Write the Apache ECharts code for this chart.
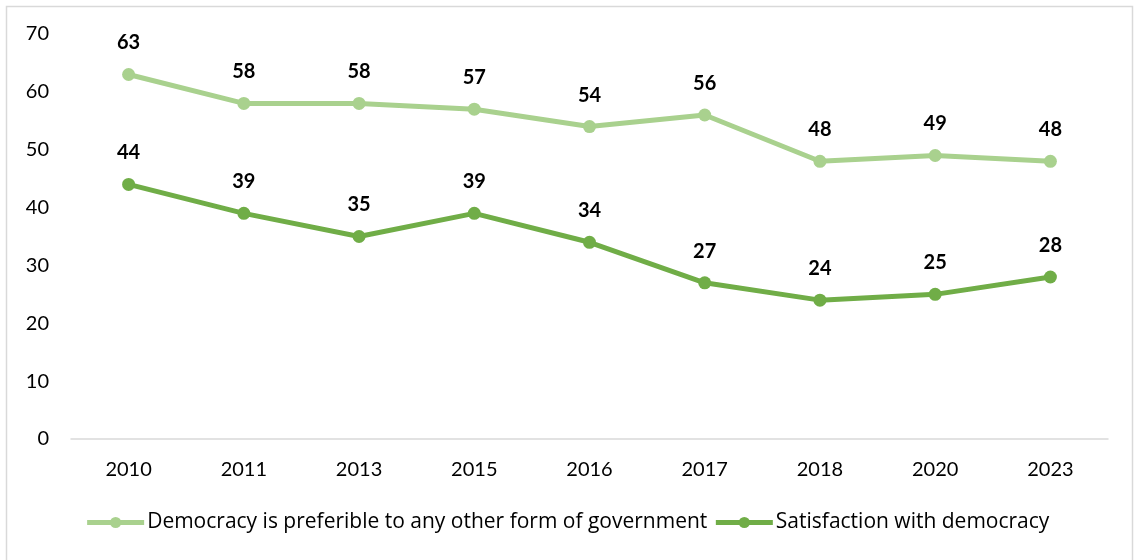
<!DOCTYPE html>
<html><head><meta charset="utf-8">
<script src="https://cdn.jsdelivr.net/npm/echarts@6/dist/echarts.min.js"></script>
<style>html,body{margin:0;padding:0;background:#fff}#c{width:1134px;height:560px}</style>
</head><body><div id="c"></div>
<script>
const categories = ['2010','2011','2013','2015','2016','2017','2018','2020','2023'];
const preferable = [63,58,58,57,54,56,48,49,48];
const satisfaction = [44,39,35,39,34,27,24,25,28];
const seriesNames = ['Democracy is preferible to any other form of government','Satisfaction with democracy'];
const yTicks = [0,10,20,30,40,50,60,70];

const font = 'Lato, "Open Sans", sans-serif';
const chart = echarts.init(document.getElementById('c'));
function mk(name, data, color){
  return {
    name, type:'line', data, symbol:'circle', symbolSize:13,
    lineStyle:{color, width:5}, itemStyle:{color},
    label:{show:true, position:'top', distance:15, color:'#000', fontWeight:'bold', fontSize:20, fontFamily:font},
    emphasis:{disabled:true}, animation:false
  };
}
chart.setOption({
  animation:false,
  graphic:[{type:'rect', shape:{x:6.5,y:6.5,width:1126,height:560}, style:{fill:'none', stroke:'#d9d9d9', lineWidth:1.5}, silent:true}],
  grid:{left:71, right:26, top:34, bottom:121, containLabel:false},
  xAxis:{type:'category', data:categories, boundaryGap:true,
    axisLine:{lineStyle:{color:'#d9d9d9', width:1.5}}, axisTick:{show:false},
    axisLabel:{color:'#000', fontSize:20, fontFamily:font, margin:21}},
  yAxis:{type:'value', min:yTicks[0], max:yTicks[yTicks.length-1], interval:10,
    splitLine:{show:false}, axisLine:{show:false}, axisTick:{show:false},
    axisLabel:{color:'#000', fontSize:20, fontFamily:font, margin:22}},
  legend:{bottom:22, left:'center', itemWidth:57, itemHeight:14, itemGap:6,
    lineStyle:{width:5},
    textStyle:{color:'#000', fontSize:21, fontFamily:'"Open Sans", sans-serif', padding:[0,0,0,-2]},
    data:seriesNames},
  series:[mk(seriesNames[0], preferable, '#a9d18e'), mk(seriesNames[1], satisfaction, '#70ad47')]
});
</script></body></html>
